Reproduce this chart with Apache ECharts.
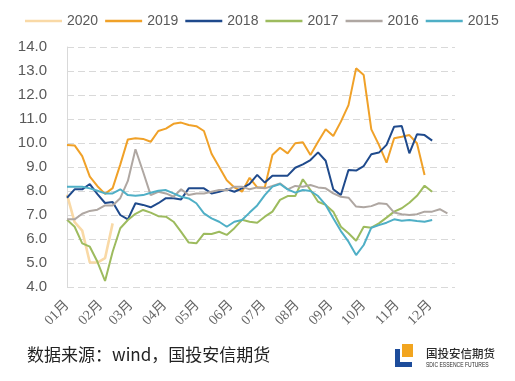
<!DOCTYPE html>
<html>
<head>
<meta charset="utf-8">
<script src="https://cdn.jsdelivr.net/npm/echarts@6/dist/echarts.min.js"></script>
<style>
html,body{margin:0;padding:0;background:#fff;}
#chart{width:515px;height:381px;}
</style>
</head>
<body>
<div id="chart"></div>
<script>
// Month tick labels and day-of-year where each month starts
const monthLabels = ['01月','02月','03月','04月','05月','06月','07月','08月','09月','10月','11月','12月'];
const monthStartDays = [0,31,59,90,120,151,181,212,243,273,304,334];
const yearNames = ['2020','2019','2018','2017','2016','2015'];

// Weekly values (week index i -> day i*7)
const y2020 = [7.85, 6.7, 6.35, 5.02, 5.02, 5.2, 6.65];
const y2019 = [9.92, 9.9, 9.45, 8.6, 8.2, 7.88, 8.12, 9.1, 10.15, 10.2, 10.17, 10.05, 10.5, 10.6, 10.8, 10.85, 10.75, 10.7, 10.5, 9.55, 9.0, 8.45, 8.15, 7.97, 8.55, 8.15, 8.15, 9.5, 9.8, 9.57, 9.99, 10.03, 9.5, 10.05, 10.57, 10.29, 10.89, 11.58, 13.11, 12.83, 10.57, 9.92, 9.18, 10.2, 10.26, 10.33, 9.99, 8.67];
const y2018 = [7.72, 8.07, 8.07, 8.29, 7.87, 7.5, 7.54, 7.0, 6.82, 7.49, 7.42, 7.32, 7.49, 7.7, 7.7, 7.65, 8.11, 8.11, 8.11, 7.9, 7.97, 8.07, 7.97, 8.11, 8.3, 8.67, 8.35, 8.64, 8.64, 8.64, 8.97, 9.11, 9.29, 9.61, 9.26, 8.07, 7.83, 8.875, 8.85, 9.04, 9.53, 9.6, 9.92, 10.68, 10.71, 9.57, 10.36, 10.33, 10.1];
const y2017 = [6.8, 6.51, 5.82, 5.68, 5.05, 4.25, 5.47, 6.45, 6.79, 7.05, 7.21, 7.1, 6.95, 6.93, 6.72, 6.3, 5.85, 5.82, 6.22, 6.21, 6.3, 6.17, 6.45, 6.8, 6.72, 6.68, 6.93, 7.14, 7.63, 7.79, 7.79, 8.49, 8.04, 7.55, 7.42, 7.14, 6.51, 6.24, 5.93, 6.51, 6.47, 6.65, 6.89, 7.14, 7.28, 7.51, 7.8, 8.22, 7.97];
const y2016 = [6.82, 6.82, 7.05, 7.17, 7.22, 7.4, 7.4, 7.7, 8.42, 9.74, 8.8, 7.83, 7.97, 7.9, 7.76, 8.07, 7.83, 7.9, 7.9, 7.97, 8.04, 8.04, 8.18, 8.18, 8.07, 8.15, 8.11, 8.21, 8.32, 8.07, 8.21, 8.18, 8.25, 8.15, 8.11, 7.9, 7.76, 7.72, 7.35, 7.32, 7.37, 7.49, 7.46, 7.1, 7.03, 7.0, 7.03, 7.14, 7.14, 7.24, 7.07];
const y2015 = [8.18, 8.18, 8.18, 8.11, 8.01, 7.9, 7.9, 8.07, 7.83, 7.8, 7.83, 7.93, 8.01, 8.04, 7.9, 7.76, 7.69, 7.49, 7.07, 6.86, 6.72, 6.51, 6.72, 6.79, 7.1, 7.4, 7.83, 8.18, 8.29, 8.07, 7.93, 8.04, 8.0, 7.79, 7.42, 6.86, 6.33, 5.89, 5.33, 5.75, 6.47, 6.58, 6.68, 6.82, 6.76, 6.79, 6.75, 6.72, 6.79];

const seriesValues = [y2020, y2019, y2018, y2017, y2016, y2015];
const colors = ['#F9D9A6', '#F0A128', '#1F4A8C', '#9DBB5E', '#AFA7A2', '#4FAFC6'];
const widths = [2.6, 2, 2, 2, 2, 2];

const chart = echarts.init(document.getElementById('chart'), null, {renderer: 'canvas'});

const series = seriesValues.map((vals, k) => ({
  name: yearNames[k],
  type: 'line',
  data: vals.map((v, i) => [i * 7, v]),
  symbol: 'none',
  smooth: false,
  lineStyle: {color: colors[k], width: widths[k]},
  itemStyle: {color: colors[k]},
  emphasis: {disabled: true},
  animation: false
}));

chart.setOption({
  animation: false,
  backgroundColor: '#ffffff',
  color: colors,
  legend: {
    data: yearNames,
    left: 20,
    top: 9,
    icon: 'rect',
    itemWidth: 37,
    itemHeight: 2.5,
    itemGap: 7,
    textStyle: {color: '#595959', fontSize: 14, fontFamily: 'Liberation Sans, Arial, sans-serif'}
  },
  grid: {left: 67, right: 60, top: 47, bottom: 94},
  xAxis: {
    type: 'value',
    min: 0,
    max: 357,
    axisLine: {show: false},
    axisTick: {show: false},
    splitLine: {show: false},
    axisLabel: {
      customValues: monthStartDays,
      rotate: 45,
      margin: 16,
      color: '#666666',
      fontSize: 14,
      fontFamily: 'Liberation Serif, Noto Sans CJK SC, serif',
      formatter: function (v) {
        const idx = monthStartDays.indexOf(v);
        return idx >= 0 ? monthLabels[idx] : '';
      }
    }
  },
  yAxis: {
    type: 'value',
    min: 4,
    max: 14,
    interval: 1,
    axisLine: {show: true, lineStyle: {color: '#D9D9D9', width: 1}},
    axisTick: {show: false},
    splitLine: {show: true, lineStyle: {color: '#D9D9D9', type: [7, 4], width: 1}},
    axisLabel: {
      margin: 20,
      color: '#595959',
      fontSize: 15,
      fontFamily: 'Liberation Sans, Arial, sans-serif',
      formatter: function (v) { return v.toFixed(1); }
    }
  },
  graphic: [
    {
      type: 'text', left: 27, top: 346,
      style: {text: '数据来源：wind，国投安信期货', fill: '#222', font: '17px "Noto Sans CJK SC", sans-serif'}
    },
    {
      type: 'rect', shape: {x: 402, y: 344, width: 11, height: 13},
      style: {fill: '#F2A51F'}
    },
    {
      type: 'polygon',
      shape: {points: [[395, 349], [400, 349], [400, 362], [412, 362], [412, 367], [395, 367]]},
      style: {fill: '#1D4C9B'}
    },
    {
      type: 'text', left: 426, top: 348,
      style: {text: '国投安信期货', fill: '#2b2b2b', font: '500 11.5px "Noto Sans CJK SC", sans-serif'}
    },
    {
      type: 'text', x: 426, y: 362, scaleX: 0.72,
      style: {text: 'SDIC ESSENCE FUTURES', fill: '#2b2b2b', font: '7px "Liberation Sans", Arial, sans-serif'}
    }
  ],
  series: series
});
</script>
</body>
</html>
